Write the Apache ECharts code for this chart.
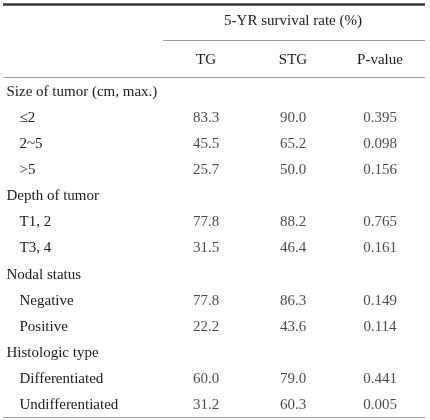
<!DOCTYPE html>
<html><head><meta charset="utf-8">
<script src="https://cdn.jsdelivr.net/npm/echarts@6/dist/echarts.min.js"></script>
<style>html,body{margin:0;padding:0;background:#fff}#c{width:430px;height:420px}</style>
</head><body><div id="c"></div>
<script>
const spanTitle = '5-YR survival rate (%)';
const columns = ['TG', 'STG', 'P-value'];
const rowLabels = ['Size of tumor (cm, max.)', '≤2', '2~5', '>5', 'Depth of tumor', 'T1, 2', 'T3, 4',
  'Nodal status', 'Negative', 'Positive', 'Histologic type', 'Differentiated', 'Undifferentiated'];
const groupRow = [true, false, false, false, true, false, false, true, false, false, true, false, false];
const tgValues  = [null, 83.3, 45.5, 25.7, null, 77.8, 31.5, null, 77.8, 22.2, null, 60.0, 31.2];
const stgValues = [null, 90.0, 65.2, 50.0, null, 88.2, 46.4, null, 86.3, 43.6, null, 79.0, 60.3];
const pValues   = [null, 0.395, 0.098, 0.156, null, 0.765, 0.161, null, 0.149, 0.114, null, 0.441, 0.005];

const FONT = '"Liberation Serif", "DejaVu Serif", serif';
const TXT = '#1a1a1a';
const FS = 15;

function colSeries(vals, colIdx, digits) {
  return {
    type: 'scatter', symbolSize: 0, silent: true,
    data: vals.map((v, i) => v == null ? null : [colIdx, i, v]).filter(d => d),
    label: { show: true, position: 'inside', color: TXT, fontFamily: FONT, fontSize: FS,
      formatter: p => p.value[2].toFixed(digits) }
  };
}

const chart = echarts.init(document.getElementById('c'), null, { renderer: 'canvas' });
chart.setOption({
  animation: false,
  grid: { left: 162.5, right: 6.5, top: 79, bottom: 2 },
  xAxis: {
    type: 'category', data: columns, position: 'top',
    axisLine: { show: false }, axisTick: { show: false }, splitLine: { show: false },
    axisLabel: { color: TXT, fontFamily: FONT, fontSize: FS, margin: 11 },
    name: spanTitle, nameLocation: 'middle', nameGap: 50,
    nameTextStyle: { color: TXT, fontFamily: FONT, fontSize: FS }
  },
  yAxis: {
    type: 'category', data: rowLabels, inverse: true,
    axisLine: { show: false }, axisTick: { show: false }, splitLine: { show: false },
    axisLabel: {
      align: 'left', margin: 156, color: TXT, fontFamily: FONT, fontSize: FS,
      formatter: (v, i) => groupRow[i] ? '{g|' + v + '}' : '{s|' + v + '}',
      rich: {
        g: { color: TXT, fontFamily: FONT, fontSize: FS },
        s: { color: TXT, fontFamily: FONT, fontSize: FS, padding: [0, 0, 0, 13] }
      }
    }
  },
  series: [colSeries(tgValues, 0, 1), colSeries(stgValues, 1, 1), colSeries(pValues, 2, 3)],
  graphic: [
    { type: 'line', shape: { x1: 3, y1: 4.5, x2: 425, y2: 4.5 }, style: { stroke: '#333', lineWidth: 2.5 } },
    { type: 'line', shape: { x1: 163, y1: 40.5, x2: 425, y2: 40.5 }, style: { stroke: '#9a9a9a', lineWidth: 1 } },
    { type: 'line', shape: { x1: 3, y1: 77.5, x2: 425, y2: 77.5 }, style: { stroke: '#9a9a9a', lineWidth: 1 } },
    { type: 'line', shape: { x1: 3, y1: 417.5, x2: 425, y2: 417.5 }, style: { stroke: '#9a9a9a', lineWidth: 1 } }
  ]
});
</script></body></html>
